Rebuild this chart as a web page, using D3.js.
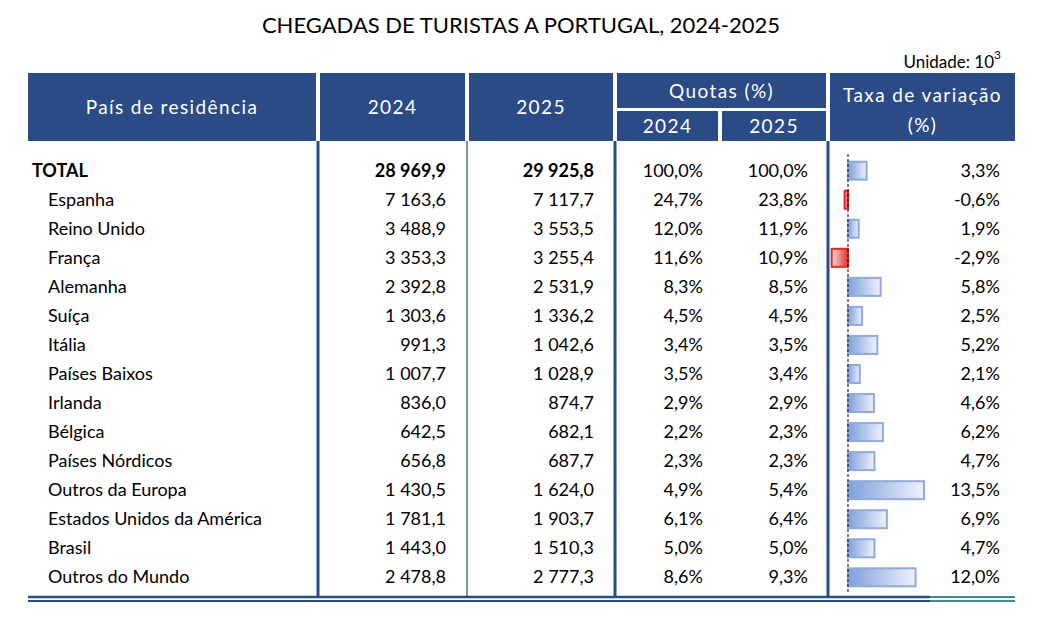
<!DOCTYPE html>
<html><head><meta charset="utf-8">
<script src="https://cdn.jsdelivr.net/npm/d3@7"></script>
<style>body{margin:0;background:#fff}text{font-family:Lato,"Open Sans",sans-serif}</style>
</head><body><svg id="chart" width="1042" height="630"></svg>
<script>
var countries = ["TOTAL","Espanha","Reino Unido","França","Alemanha","Suíça","Itália","Países Baixos","Irlanda","Bélgica","Países Nórdicos","Outros da Europa","Estados Unidos da América","Brasil","Outros do Mundo"];
var v2024 = ["28 969,9","7 163,6","3 488,9","3 353,3","2 392,8","1 303,6","991,3","1 007,7","836,0","642,5","656,8","1 430,5","1 781,1","1 443,0","2 478,8"];
var v2025 = ["29 925,8","7 117,7","3 553,5","3 255,4","2 531,9","1 336,2","1 042,6","1 028,9","874,7","682,1","687,7","1 624,0","1 903,7","1 510,3","2 777,3"];
var q2024 = ["100,0%","24,7%","12,0%","11,6%","8,3%","4,5%","3,4%","3,5%","2,9%","2,2%","2,3%","4,9%","6,1%","5,0%","8,6%"];
var q2025 = ["100,0%","23,8%","11,9%","10,9%","8,5%","4,5%","3,5%","3,4%","2,9%","2,3%","2,3%","5,4%","6,4%","5,0%","9,3%"];
var taxa = [3.3,-0.6,1.9,-2.9,5.8,2.5,5.2,2.1,4.6,6.2,4.7,13.5,6.9,4.7,12.0];

var svg = d3.select("#chart");
var navy = "#2b4b87";
var fmt = function(d){ return d3.format(".1f")(d).replace(".", ",").replace("\u2212","-") + "%"; };

svg.append("text").attr("x",521).attr("y",33).attr("text-anchor","middle")
  .style("font-size","22px").text("CHEGADAS DE TURISTAS A PORTUGAL, 2024-2025");
var u = svg.append("text").attr("x",1001).attr("y",68).attr("text-anchor","end").style("font-size","17px");
u.append("tspan").text("Unidade: 10");
u.append("tspan").attr("dy",-9).style("font-size","12px").text("3");

// header cells
function cell(x0,x1,y0,y1,label){
  svg.append("rect").attr("x",x0).attr("y",y0).attr("width",x1-x0).attr("height",y1-y0).attr("fill",navy);
  var t = svg.append("text").attr("x",(x0+x1)/2).attr("y",(y0+y1)/2+7).attr("text-anchor","middle")
    .attr("fill","#fff").style("font-size","19px").style("letter-spacing","1.4px");
  if (Array.isArray(label)) {
    t.attr("y",(y0+y1)/2-5);
    label.forEach(function(l,i){ t.append("tspan").attr("x",(x0+x1)/2).attr("dy",i?30:0).text(l); });
  } else t.text(label);
}
cell(28,316,73,141,"País de residência");
cell(320,465,73,141,"2024");
cell(469,613,73,141,"2025");
cell(617,826,73,108,"Quotas (%)");
cell(617,718,111,141,"2024");
cell(722,826,111,141,"2025");
cell(830,1015,73,141,["Taxa de variação","(%)"]);

var y = d3.scaleBand().domain(d3.range(countries.length)).range([155,593]).paddingInner(0.12).paddingOuter(0.1);
var yc = function(i){ return y(i)+y.bandwidth()/2; };

// vertical separators
[318,615,828].forEach(function(x){
  svg.append("line").attr("x1",x).attr("x2",x).attr("y1",141).attr("y2",596).attr("stroke",navy).attr("stroke-width",3);
});
svg.append("line").attr("x1",467).attr("x2",467).attr("y1",141).attr("y2",596).attr("stroke",navy).attr("stroke-width",1.2);

var rows = svg.selectAll("g.row").data(countries).join("g").attr("class","row");
rows.append("text").attr("x",function(d,i){return i?48:32;}).attr("y",function(d,i){return yc(i)+6;})
  .style("font-size","18px").style("font-weight",function(d,i){return i?"normal":"bold";}).text(function(d){return d;});
function col(arr,x,bold){
  svg.selectAll(null).data(arr).join("text").attr("x",x).attr("y",function(d,i){return yc(i)+6;})
    .attr("text-anchor","end").style("font-size","18px")
    .style("font-weight",function(d,i){return (bold&&!i)?"bold":"normal";}).text(function(d){return d;});
}
col(v2024,446,true);
col(v2025,594,true);
col(q2024,703,false);
col(q2025,808,false);
col(taxa.map(fmt),1000,false);

// bars
var xs = d3.scaleLinear().domain([0,13.5]).range([848,924]);
var defs = svg.append("defs");
var gb = defs.append("linearGradient").attr("id","gb");
gb.append("stop").attr("offset","0").attr("stop-color","#7f9fdc");
gb.append("stop").attr("offset","1").attr("stop-color","#eef2fb");
var gr = defs.append("linearGradient").attr("id","gr");
gr.append("stop").attr("offset","0").attr("stop-color","#f7dcdc");
gr.append("stop").attr("offset","1").attr("stop-color","#e8302c");
svg.selectAll("rect.bar").data(taxa).join("rect").attr("class","bar")
  .attr("x",function(d){return Math.min(xs(0),xs(d));})
  .attr("y",function(d,i){return yc(i)-9;}).attr("height",18)
  .attr("width",function(d){return Math.abs(xs(d)-xs(0));})
  .attr("fill",function(d){return d<0?"url(#gr)":"url(#gb)";})
  .attr("stroke",function(d){return d<0?"#e02a24":"#8eaae0";}).attr("stroke-width",2);
svg.append("line").attr("x1",xs(0)).attr("x2",xs(0)).attr("y1",154).attr("y2",592)
  .attr("stroke","#000").attr("stroke-dasharray","3,2");

// bottom double line
[597,601].forEach(function(yy,k){
  svg.append("line").attr("x1",28).attr("x2",930).attr("y1",yy).attr("y2",yy).attr("stroke",navy).attr("stroke-width",k?2:2.5);
  svg.append("line").attr("x1",930).attr("x2",1015).attr("y1",yy).attr("y2",yy).attr("stroke","#3f8a91").attr("stroke-width",2);
});
</script></body></html>
